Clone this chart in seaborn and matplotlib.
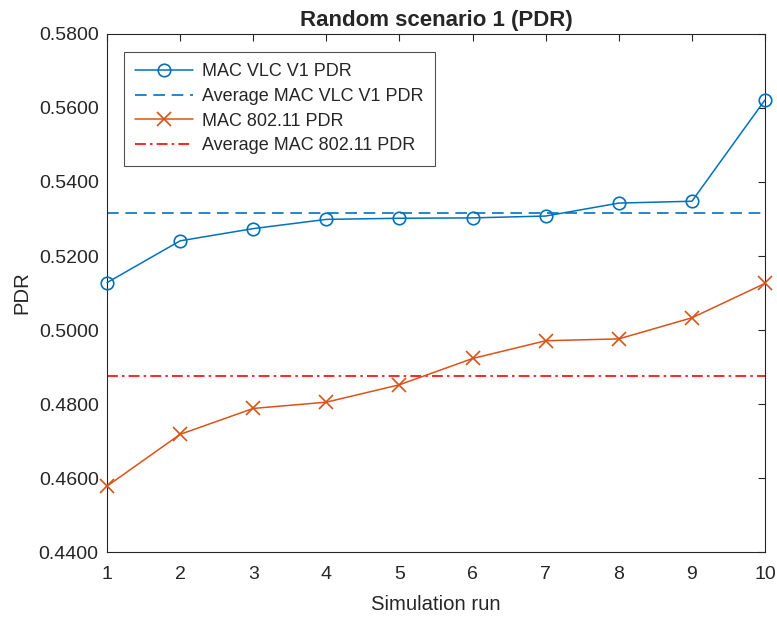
import numpy as np
import pandas as pd
import seaborn as sns
import matplotlib.pyplot as plt
from matplotlib.ticker import FormatStrFormatter

# Data
runs = [1, 2, 3, 4, 5, 6, 7, 8, 9, 10]
vlc_pdr = [0.5128, 0.5241, 0.5274, 0.5299, 0.5302, 0.5303, 0.5308, 0.5343, 0.5348, 0.5622]
wifi_pdr = [0.4578, 0.4718, 0.4788, 0.4805, 0.4852, 0.4923, 0.4971, 0.4976, 0.5033, 0.5126]
yticks = [0.44, 0.46, 0.48, 0.50, 0.52, 0.54, 0.56, 0.58]

df = pd.DataFrame({'run': runs, 'vlc': vlc_pdr, 'wifi': wifi_pdr})

sns.set_theme(style='white')
plt.rcParams['font.family'] = ['Liberation Sans', 'DejaVu Sans']
plt.rcParams['xtick.direction'] = 'in'
plt.rcParams['ytick.direction'] = 'in'

fig = plt.figure(figsize=(7.77, 6.19), dpi=100)
ax = fig.add_axes([0.1377, 0.1082, 0.8469, 0.8369])

blue = '#0072BD'
orange = '#D95319'

sns.lineplot(data=df, x='run', y='vlc', ax=ax, color=blue, marker='o', markersize=9,
             markerfacecolor='none', markeredgecolor=blue, markeredgewidth=1.2,
             linewidth=1.1, label='MAC VLC V1 PDR', clip_on=False, zorder=3)
ax.axhline(np.mean(vlc_pdr), color=blue, linestyle=(0, (7, 4)), linewidth=1.2,
           label='Average MAC VLC V1 PDR')
sns.lineplot(data=df, x='run', y='wifi', ax=ax, color=orange, marker='x', markersize=9.5,
             markeredgecolor=orange, markeredgewidth=1.2,
             linewidth=1.1, label='MAC 802.11 PDR', clip_on=False, zorder=3)
ax.axhline(np.mean(wifi_pdr), color='red', linestyle=(0, (6.5, 2.5, 1.5, 2.5)), linewidth=1.2,
           label='Average MAC 802.11 PDR')

ax.set_xlim(1, 10)
ax.set_ylim(0.44, 0.58)
ax.set_xticks(runs)
ax.set_yticks(yticks)
ax.yaxis.set_major_formatter(FormatStrFormatter('%.4f'))
ax.tick_params(axis='both', labelsize=14, length=5, width=0.8, colors='#262626',
               top=True, right=True)
ax.tick_params(axis='x', pad=10)
ax.tick_params(axis='y', pad=6)
for s in ax.spines.values():
    s.set_color('#262626')
    s.set_linewidth(0.8)

ax.set_xlabel('Simulation run', fontsize=14.6, color='#262626', labelpad=9)
ax.set_ylabel('PDR', fontsize=14.6, color='#262626', labelpad=5)
ax.set_title('Random scenario 1 (PDR)', fontsize=16, fontweight='bold', pad=6)

leg = ax.legend(loc='upper left', bbox_to_anchor=(0.0258, 0.9653), borderaxespad=0,
                fontsize=13, frameon=True, fancybox=False, edgecolor='#262626',
                handlelength=3.2, handletextpad=0.5, borderpad=0.62, labelspacing=0.43)
leg.get_frame().set_linewidth(0.8)

fig.savefig('out.png', dpi=100)
